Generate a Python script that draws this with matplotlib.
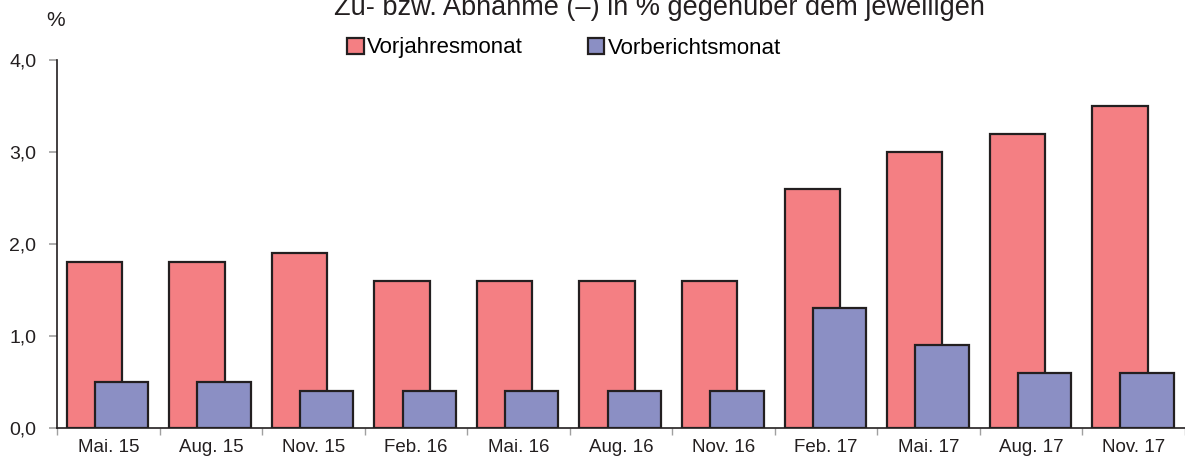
import matplotlib
matplotlib.use("Agg")
import matplotlib.pyplot as plt
import matplotlib.patches as mpatches
import numpy as np

# data
categories = ["Mai. 15", "Aug. 15", "Nov. 15", "Feb. 16", "Mai. 16", "Aug. 16",
              "Nov. 16", "Feb. 17", "Mai. 17", "Aug. 17", "Nov. 17"]
vorjahresmonat = [1.8, 1.8, 1.9, 1.6, 1.6, 1.6, 1.6, 2.6, 3.0, 3.2, 3.5]
vorberichtsmonat = [0.5, 0.5, 0.4, 0.4, 0.4, 0.4, 0.4, 1.3, 0.9, 0.6, 0.6]
yticks = [0.0, 1.0, 2.0, 3.0, 4.0]

red = "#F47F83"
blue = "#8B8FC4"
edge = "#231F20"

plt.rcParams["font.family"] = ["Liberation Sans", "DejaVu Sans"]

fig = plt.figure(figsize=(11.85, 4.68), dpi=100)
ax = fig.add_axes([0.0481, 0.0855, 0.9519, 0.7863])

x = np.arange(len(categories))
ax.bar(x - 0.135, vorjahresmonat, width=0.54, color=red, edgecolor=edge, linewidth=1.6, zorder=2)
ax.bar(x + 0.13, vorberichtsmonat, width=0.52, color=blue, edgecolor=edge, linewidth=1.6, zorder=3)

ax.set_xlim(-0.5, len(categories) - 0.5)
ax.set_ylim(0, 4.0)

# y axis
ax.set_yticks(yticks)
ax.set_yticklabels([f"{v:.1f}".replace(".", ",") for v in yticks])
ax.tick_params(axis="y", length=6, width=1.2, color="#A0A0A0", pad=9, labelsize=14, labelcolor="#231F20")

# x axis: labels at centres, tick marks between categories
ax.set_xticks(x)
ax.set_xticklabels(categories)
ax.set_xticks(np.arange(-0.5, len(categories)), minor=True)
ax.tick_params(axis="x", which="major", length=0, pad=8, labelsize=13.5, labelcolor="#231F20")
ax.tick_params(axis="x", which="minor", length=5, width=1.0, color="#A0A0A0")

for s in ["top", "right"]:
    ax.spines[s].set_visible(False)
ax.spines["left"].set_linewidth(1.2)
ax.spines["bottom"].set_linewidth(1.2)
ax.spines["left"].set_color(edge)
ax.spines["bottom"].set_color(edge)

# title (cut at top in the reference) and unit
fig.text(0.5565, 1 - 15 / 468, "Zu- bzw. Abnahme (–) in % gegenüber dem jeweiligen",
         ha="center", va="baseline", fontsize=19.5, color="#231F20")
fig.text(0.047, 1 - 21 / 468, "%", ha="center", va="center", fontsize=15, color="#231F20")

handles = [mpatches.Patch(facecolor=red, edgecolor=edge, linewidth=1.6, label="Vorjahresmonat"),
           mpatches.Patch(facecolor=blue, edgecolor=edge, linewidth=1.6, label="Vorberichtsmonat")]
fig.legend(handles=handles, ncol=2, loc="center left", bbox_to_anchor=(0.293, 1 - 48 / 468),
           frameon=False, fontsize=16, handlelength=0.75, handleheight=0.75,
           handletextpad=0.15, columnspacing=2.9, borderpad=0, borderaxespad=0)

fig.savefig("out.png", dpi=100)
